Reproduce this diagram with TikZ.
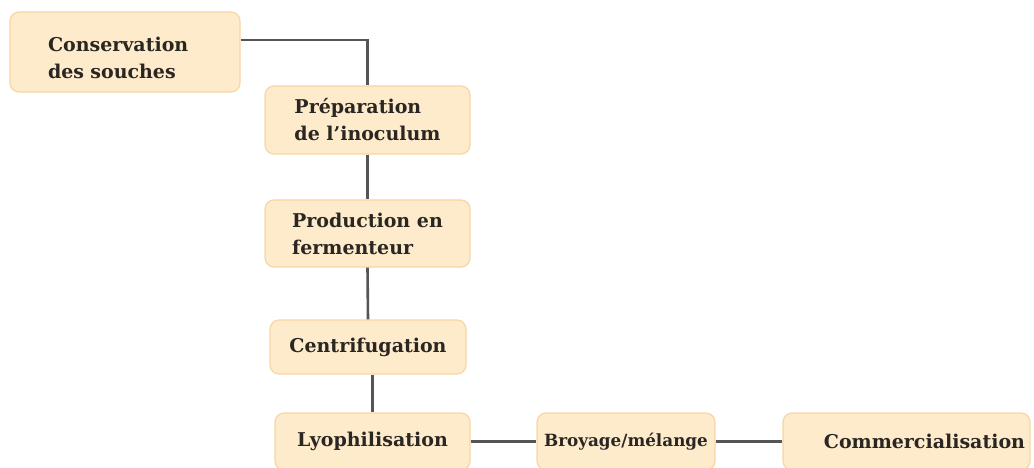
\documentclass[tikz,border=0pt]{standalone}
\usepackage{fontspec}
\setmainfont{DejaVu Serif}
\begin{document}
\begin{tikzpicture}[x=1pt,y=-1pt,
  stage/.style={draw=boxline, fill=boxfill, line width=1.2pt, rounded corners=9pt,
    font=\bfseries\fontsize{19}{27}\selectfont, text=textdark, inner sep=0pt, anchor=center},
  link/.style={draw=linkgray, line width=2.6pt}]
\definecolor{boxfill}{HTML}{FDEBCB}
\definecolor{boxline}{HTML}{F6D6A4}
\definecolor{linkgray}{HTML}{555555}
\definecolor{textdark}{HTML}{2A2622}
\useasboundingbox (0,0) rectangle (1034,468);
\node[stage, minimum width=230pt, minimum height=80pt, text width=154pt, align=left] (A) at (125,52) {\rule{0pt}{27pt}Conservation\\des souches};
\node[stage, minimum width=205pt, minimum height=68pt, align=left] (B) at (367.5,120) {Préparation\\de l’inoculum};
\node[stage, minimum width=205pt, minimum height=67pt, align=left] (C) at (367.5,233.5) {Production en\\fermenteur};
\node[stage, minimum width=196pt, minimum height=54pt] (D) at (368,347) {Centrifugation};
\node[stage, minimum width=195pt, minimum height=57pt] (E) at (372.5,441.5) {Lyophilisation};
\node[stage, minimum width=178pt, minimum height=57pt, font=\bfseries\fontsize{16.8}{27}\selectfont] (F) at (626,441.5) {Broyage/mélange};
\node[stage, minimum width=247pt, minimum height=57pt, text width=237pt, align=right] (G) at (906.5,441.5) {Commercialisation};
\draw[link] ([yshift=12pt]A.east) -| (B.north);
\draw[link] (B.south) -- (C.north);
\draw[link] (C.south) -- (D.north);
\draw[link] (E.north |- D.south) -- (E.north);
\draw[link] (E.east) -- (F.west);
\draw[link] (F.east) -- (G.west);
\end{tikzpicture}
\end{document}
